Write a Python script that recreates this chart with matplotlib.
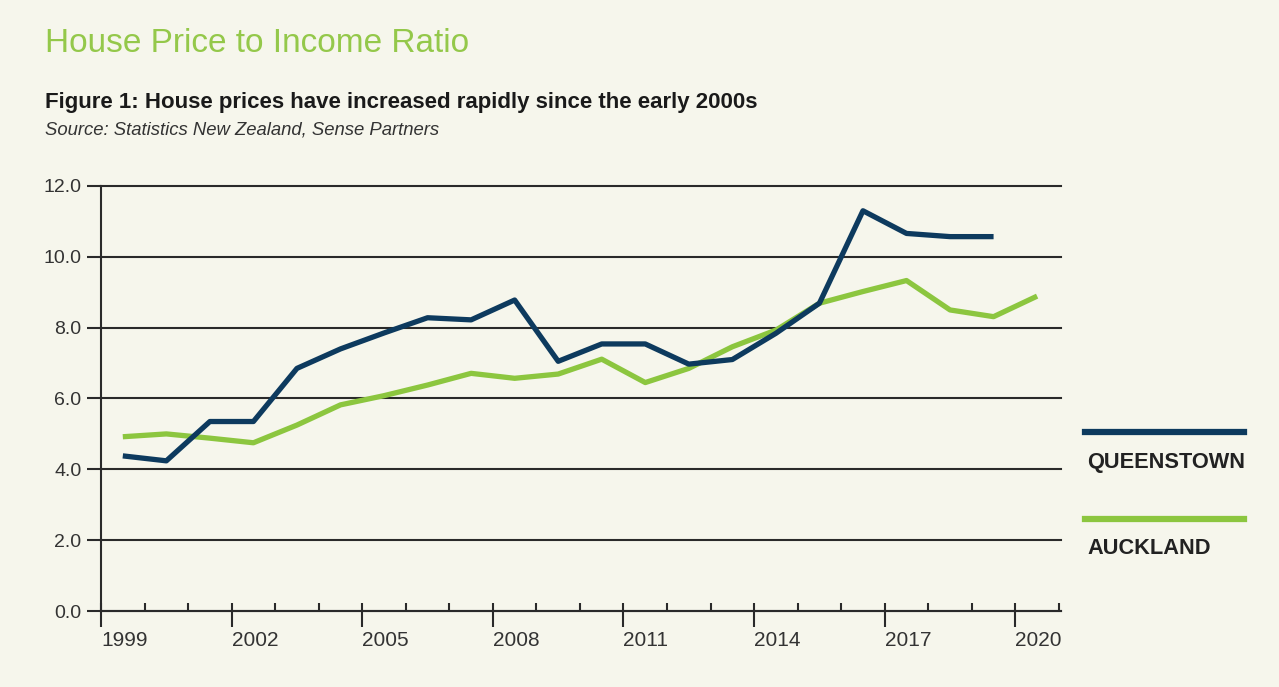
import matplotlib.pyplot as plt
from matplotlib.lines import Line2D

plt.rcParams['font.family'] = ['Liberation Sans', 'DejaVu Sans']

# data
years_qt = list(range(1999, 2020))
queenstown = [4.38, 4.24, 5.35, 5.35, 6.85, 7.40, 7.85, 8.28, 8.22, 8.78, 7.05,
              7.54, 7.54, 6.97, 7.10, 7.84, 8.69, 11.30, 10.66, 10.57, 10.57]
years_ak = list(range(1999, 2021))
auckland = [4.92, 5.00, 4.88, 4.75, 5.25, 5.82, 6.08, 6.38, 6.71, 6.57, 6.69,
            7.11, 6.45, 6.85, 7.46, 7.93, 8.69, 9.02, 9.33, 8.50, 8.31, 8.89]
major_years = [1999, 2002, 2005, 2008, 2011, 2014, 2017, 2020]
y_ticks = [0, 2, 4, 6, 8, 10, 12]

navy = '#0d3a5e'
green = '#8cc63f'
bg = '#f6f6ec'
dark = '#2a2a2a'

fig = plt.figure(figsize=(12.79, 6.87), dpi=100, facecolor=bg)
ax = fig.add_axes([0.079, 0.1106, 0.7506, 0.6187])
ax.set_facecolor(bg)

ax.plot([y + 0.5 for y in years_ak], auckland, color=green, lw=3.8, solid_capstyle='butt', zorder=3)
ax.plot([y + 0.5 for y in years_qt], queenstown, color=navy, lw=3.8, solid_capstyle='butt', zorder=4)

ax.set_xlim(1999, 2021.05)
ax.set_ylim(0, 12)

ax.set_yticks(y_ticks)
ax.set_yticklabels([f"{v:.1f}" for v in y_ticks])
ax.yaxis.grid(True, color=dark, lw=1.5)
for gl in ax.get_ygridlines():
    gl.set_clip_on(False)
ax.set_axisbelow(True)
ax.tick_params(axis='y', length=10, width=1.5, color=dark, pad=4, labelsize=14, labelcolor='#333333')

ax.set_xticks(major_years)
ax.set_xticklabels([str(y) for y in major_years], ha='left')
ax.set_xticks(list(range(1999, 2022)), minor=True)
ax.xaxis.remove_overlapping_locs = False
ax.tick_params(axis='x', which='major', direction='out', length=11.5, width=1.5, color=dark,
               pad=3, labelsize=15, labelcolor='#333333')
ax.tick_params(axis='x', which='minor', direction='in', length=6, width=1.5, color=dark)

for s in ['top', 'right']:
    ax.spines[s].set_visible(False)
for s in ['left', 'bottom']:
    ax.spines[s].set_color(dark)
    ax.spines[s].set_linewidth(1.5)

# headings
fig.text(0.035, 0.937, "House Price to Income Ratio", color='#94c84a', fontsize=24, va='center')
fig.text(0.035, 0.851, "Figure 1: House prices have increased rapidly since the early 2000s",
         fontsize=16, fontweight='bold', color='#1a1a1a', va='center')
fig.text(0.035, 0.811, "Source: Statistics New Zealand, Sense Partners",
         fontsize=13.3, style='italic', color='#333333', va='center')

# legend on the right
fig.add_artist(Line2D([0.848, 0.973], [0.3712, 0.3712], color=navy, lw=4.5, transform=fig.transFigure))
fig.text(0.85, 0.327, "QUEENSTOWN", fontsize=15.7, fontweight='bold', color='#222222', va='center')
fig.add_artist(Line2D([0.848, 0.973], [0.2445, 0.2445], color=green, lw=4.5, transform=fig.transFigure))
fig.text(0.85, 0.201, "AUCKLAND", fontsize=15.7, fontweight='bold', color='#222222', va='center')

fig.savefig('out.png', dpi=100, facecolor=bg)
